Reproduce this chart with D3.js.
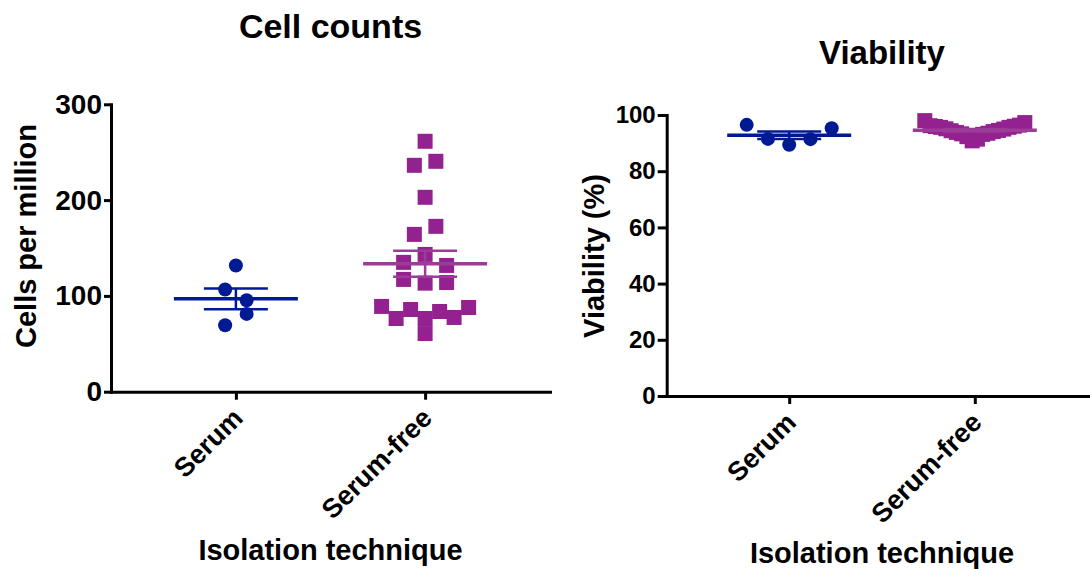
<!DOCTYPE html>
<html>
<head>
<meta charset="utf-8">
<script src="https://cdn.jsdelivr.net/npm/d3@7"></script>
<style>
  html, body { margin: 0; padding: 0; background: #fff; }
  svg { display: block; }
  text { font-family: "Liberation Sans", Arial, Helvetica, sans-serif; font-weight: bold; fill: #000; }
</style>
</head>
<body>
<svg id="chart" width="1090" height="569"></svg>
<script>
// Groups and measured values (one entry per sample, in table order)
const categories = ["Serum", "Serum-free"];

const cellSerum = [131.8, 106.7, 95.5, 69.4, 81.2];
const cellSerumFree = [261.4, 236.3, 240.5, 202.9, 164.2, 172.6, 135.0, 143.3, 131.8,
  117.2, 113.3, 114.0, 89.0, 76.4, 85.8, 76.4, 83.7, 77.5, 87.9, 60.7];

const viaSerum = [96.5, 91.5, 89.4, 91.4, 95.3];
const viaSerumFree = [98.0, 96.2, 95.9, 95.6, 95.1, 94.4, 93.8, 93.3, 92.3, 90.8,
  91.4, 93.1, 93.5, 94.1, 94.5, 95.0, 95.6, 96.0, 96.4, 97.3];

const cellTicks = [0, 100, 200, 300];
const viaTicks = [0, 20, 40, 60, 80, 100];

const seriesColors = ["#001a94", "#93218f"];
const lineColors = ["#001a94", "#9d3b99"];
const symbolKinds = ["circle", "square"];

const svg = d3.select("#chart");

// Spread points of one column sideways: values whose pixel rows chain
// together (gap < bandGap) share a row and are spaced evenly about the centre.
function swarmOffsets(values, yScale, bandGap = 12) {
  const order = d3.range(values.length).sort((a, b) => yScale(values[a]) - yScale(values[b]));
  const offsets = new Array(values.length).fill(0);
  const bands = [];
  let current = [];
  order.forEach((i, k) => {
    if (k > 0 && yScale(values[i]) - yScale(values[order[k - 1]]) >= bandGap) {
      bands.push(current);
      current = [];
    }
    current.push(i);
  });
  if (current.length) bands.push(current);
  bands.forEach(band => {
    band.sort((a, b) => a - b);
    const n = band.length;
    if (n < 2) return;
    const half = Math.min(10.75 * (n - 1), 40 + 0.5 * n);
    band.forEach((i, j) => { offsets[i] = -half + j * (2 * half / (n - 1)); });
  });
  return offsets;
}

function drawPanel(cfg) {
  const g = svg.append("g");
  const x = d3.scalePoint().domain(categories).range([cfg.x0, cfg.x1]).padding(0.66);
  const y = d3.scaleLinear().domain([0, cfg.yMax]).range([cfg.yBottom, cfg.yTop]);

  // axes
  const yAxis = g.append("g")
    .attr("transform", `translate(${cfg.x0},0)`)
    .call(d3.axisLeft(y).tickValues(cfg.ticks).tickSize(cfg.yTickSize).tickSizeOuter(0).tickPadding(2));
  yAxis.selectAll("text")
    .style("font-size", cfg.yTickFont + "px")
    .style("font-family", "'Liberation Sans', Arial, sans-serif")
    .style("font-weight", "bold")
    .attr("fill", "#000");

  const xAxis = g.append("g")
    .attr("transform", `translate(0,${cfg.yBottom})`)
    .call(d3.axisBottom(x).tickSize(8).tickSizeOuter(0));
  xAxis.selectAll("text")
    .style("font-size", "27px")
    .style("font-family", "'Liberation Sans', Arial, sans-serif")
    .style("font-weight", "bold")
    .attr("fill", "#000")
    .attr("text-anchor", "end")
    .attr("dy", null)
    .attr("y", null)
    .attr("transform", "translate(8,28) rotate(-45)");

  [yAxis, xAxis].forEach(a => {
    a.select(".domain").attr("stroke", "#000").attr("stroke-width", 3).attr("stroke-linecap", "square");
    a.selectAll(".tick line").attr("stroke", "#000").attr("stroke-width", 3);
  });

  // titles
  g.append("text")
    .attr("x", (cfg.x0 + cfg.x1) / 2).attr("y", cfg.titleY)
    .attr("text-anchor", "middle")
    .style("font-size", cfg.titleFont + "px")
    .text(cfg.title);
  g.append("text")
    .attr("x", (cfg.x0 + cfg.x1) / 2).attr("y", cfg.xTitleY)
    .attr("text-anchor", "middle")
    .style("font-size", "29px")
    .text("Isolation technique");
  g.append("text")
    .attr("transform", `translate(${cfg.yTitleX},${cfg.yTitleY}) rotate(-90)`)
    .attr("text-anchor", "middle")
    .style("font-size", "29px")
    .text(cfg.yTitle);

  // points + mean ± SEM per group
  cfg.series.forEach((vals, si) => {
    const cx = x(categories[si]);
    const offs = swarmOffsets(vals, y);
    const pts = vals.map((v, i) => ({ v, dx: offs[i] }));
    const sym = d3.symbol()
      .type(symbolKinds[si] === "circle" ? d3.symbolCircle : d3.symbolSquare)
      .size(symbolKinds[si] === "circle" ? Math.PI * 49 : 225);
    g.append("g").selectAll("path")
      .data(pts)
      .join("path")
      .attr("d", sym)
      .attr("transform", d => `translate(${cx + d.dx},${y(d.v)})`)
      .attr("fill", seriesColors[si]);

    const mean = d3.mean(vals);
    const sem = d3.deviation(vals) / Math.sqrt(vals.length);
    const lg = g.append("g").attr("stroke", lineColors[si]).attr("fill", "none");
    lg.append("line")
      .attr("x1", cx - 62).attr("x2", cx + 62)
      .attr("y1", y(mean)).attr("y2", y(mean))
      .attr("stroke-width", 3.5);
    lg.append("line")
      .attr("x1", cx).attr("x2", cx)
      .attr("y1", y(mean + sem)).attr("y2", y(mean - sem))
      .attr("stroke-width", 2.5);
    [mean + sem, mean - sem].forEach(v => {
      lg.append("line")
        .attr("x1", cx - 32).attr("x2", cx + 32)
        .attr("y1", y(v)).attr("y2", y(v))
        .attr("stroke-width", 2.5);
    });
  });
}

drawPanel({
  x0: 111, x1: 550, yBottom: 391.7, yTop: 104.3, yMax: 300,
  ticks: cellTicks, yTickSize: 7, yTickFont: 28,
  title: "Cell counts", titleY: 38, titleFont: 34,
  xTitleY: 560,
  yTitle: "Cells per million", yTitleX: 36, yTitleY: 236,
  series: [cellSerum, cellSerumFree]
});

drawPanel({
  x0: 666.7, x1: 1097.3, yBottom: 396, yTop: 115, yMax: 100,
  ticks: viaTicks, yTickSize: 9, yTickFont: 24,
  title: "Viability", titleY: 64, titleFont: 33,
  xTitleY: 563,
  yTitle: "Viability (%)", yTitleX: 604, yTitleY: 256,
  series: [viaSerum, viaSerumFree]
});
</script>
</body>
</html>
